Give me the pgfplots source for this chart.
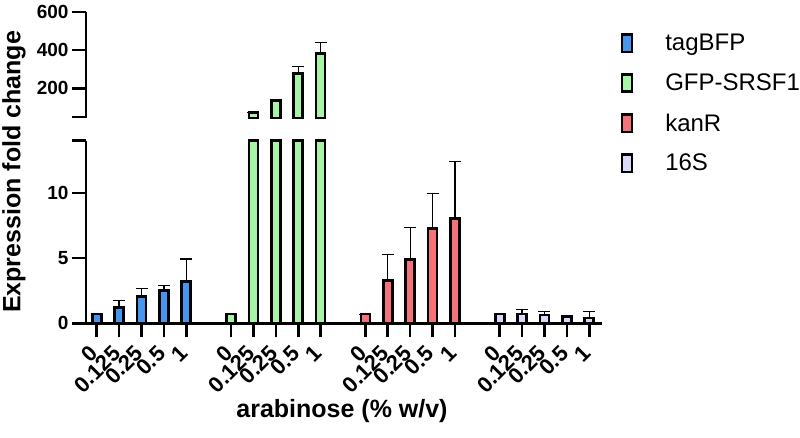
\documentclass[border=0pt]{standalone}
\usepackage{fontspec}
\setmainfont{Liberation Sans}
\usepackage{pgfplots}
\pgfplotsset{compat=1.18}
\usepackage{pgfplotstable}

\definecolor{cblue}{RGB}{70,150,240}
\definecolor{cgreen}{RGB}{165,245,165}
\definecolor{cred}{RGB}{245,115,120}
\definecolor{clav}{RGB}{218,218,248}

% x = bar position, y = fold change, e = upper error
\pgfplotstableread{
x y e
0 0.72 0
1 1.20 0.54
2 2.05 0.62
3 2.50 0.42
4 3.20 1.72
}\tagbfp
\pgfplotstableread{
x y e
6 0.70 0
7 72 0
8 137 0
9 278 36
10 382 59
}\gfp
\pgfplotstableread{
x y e
12 0.70 0
13 3.30 1.95
14 4.90 2.45
15 7.25 2.70
16 8.05 4.35
}\kanr
\pgfplotstableread{
x y e
18 0.70 0
19 0.70 0.38
20 0.65 0.27
21 0.50 0
22 0.40 0.52
}\ssu

\pgfplotsset{
  brk/.style={
    scale only axis, width=516pt,
    xmin=-0.48, xmax=22.57,
    axis line style={line width=2.6pt},
    ticklabel style={font=\fontsize{19}{20}\selectfont\bfseries},
  },
  bars/.style={ybar, bar shift=0pt, bar width=9pt, draw=black, line width=2.6pt},
  errs/.style={error bars/.cd, y dir=plus, y explicit,
    error bar style={line width=1.3pt, black},
    error mark options={rotate=90, mark size=6pt, line width=1.3pt, black}},
}

\begin{document}
\begin{tikzpicture}
\useasboundingbox (0,0) rectangle (800pt,438pt);

% lower part, 0 to 14
\begin{axis}[brk,
  at={(86pt,114.7pt)}, anchor=south west, height=182.6pt,
  ymin=0, ymax=14, clip=false,
  axis x line*=bottom, axis y line*=left,
  tick align=outside, major tick length=14pt,
  ytick style={draw=black, line width=2.6pt},
  ytick={0,5,10,14}, yticklabels={0,5,10,},
  xtick=\empty,
  legend style={draw=none, fill=none, at={(rel axis cs:1.03,1.605)}, anchor=north west,
    font=\fontsize{24}{24}\selectfont, row sep=17.5pt,
    /tikz/every odd column/.append style={column sep=30pt}},
  legend cell align=left,
  legend image code/.code={\draw[#1, draw=black, line width=2.6pt] (0pt,-8.7pt) rectangle (10pt,8.7pt);},
]
\addplot[bars, fill=cblue, errs] table[x=x, y=y, y error=e] {\tagbfp};
\addlegendentry{tagBFP}
\addplot[bars, fill=cgreen, y filter/.expression={y>14 ? 14 : y}] table[x=x, y=y] {\gfp};
\addlegendentry{GFP-SRSF1}
\addplot[bars, fill=cred, errs] table[x=x, y=y, y error=e] {\kanr};
\addlegendentry{kanR}
\addplot[bars, fill=clav, errs] table[x=x, y=y, y error=e] {\ssu};
\addlegendentry{16S}
\end{axis}

% category ticks under the lower part
\begin{axis}[brk,
  at={(86pt,114.7pt)}, anchor=south west, height=182.6pt,
  ymin=0, ymax=14,
  hide y axis, axis x line*=bottom,
  xtick align=outside, major tick length=14pt,
  xtick style={draw=black, line width=2.6pt},
  xtick={0,1,2,3,4,6,7,8,9,10,12,13,14,15,16,18,19,20,21,22},
  xticklabels={0,0.125,0.25,0.5,1,0,0.125,0.25,0.5,1,0,0.125,0.25,0.5,1,0,0.125,0.25,0.5,1},
  xticklabel style={rotate=45, anchor=east, font=\fontsize{22}{22}\selectfont\bfseries},
  xticklabel shift=10pt,
]
\end{axis}

% upper part, 50 to 600
\begin{axis}[brk,
  at={(86pt,319.5pt)}, anchor=south west, height=106.5pt,
  ymin=42, ymax=600,
  axis x line=none, axis y line*=left,
  ytick align=outside, major tick length=14pt,
  ytick style={draw=black, line width=2.6pt},
  ytick={50,200,400,600}, yticklabels={,200,400,600},
]
\addplot[bars, fill=none, forget plot] coordinates {(7,50) (8,50) (9,50) (10,50)};
\addplot[bars, fill=cgreen, skip coords between index={0}{1}, errs] table[x=x, y=y, y error=e] {\gfp};
\end{axis}

\node[rotate=90, font=\fontsize{25}{30}\selectfont\bfseries] at (14pt,266pt) {Expression fold change};
\node[font=\fontsize{25}{30}\selectfont\bfseries] at (342pt,27pt) {arabinose (\% w/v)};
\end{tikzpicture}
\end{document}
